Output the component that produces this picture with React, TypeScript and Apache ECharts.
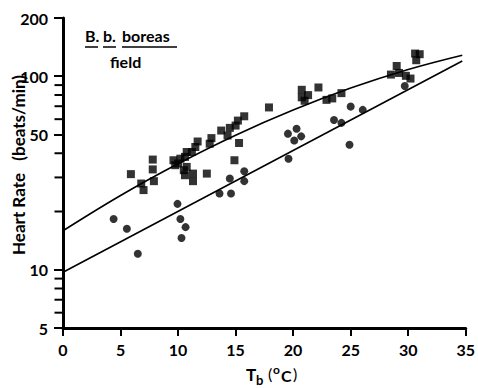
import React, { useEffect, useRef } from "react";
import * as echarts from "echarts";

// Squares (upper group)
const squareTemp = [5.9, 7.8, 7.8, 6.8, 7.0, 7.9, 15.75, 15.2, 15.0, 14.5, 13.75, 14.3, 12.9, 12.75, 11.7, 11.5, 11.2, 10.75, 10.6, 10.2, 10.0, 9.6, 9.75, 10.75, 10.5, 10.6, 11.3, 11.3, 12.5, 15.3, 14.9, 17.9, 20.75, 20.75, 21.3, 21.0, 22.2, 22.9, 23.4, 24.2, 30.6, 31.0, 30.7, 29.0, 28.5, 29.2, 29.8, 30.2];
const squareHR = [31.2, 37.1, 33.0, 27.9, 25.8, 28.7, 62.1, 59.0, 55.6, 54.1, 52.4, 49.4, 47.9, 44.8, 46.0, 43.1, 40.6, 40.6, 38.3, 37.5, 35.4, 36.8, 34.7, 34.0, 32.7, 30.8, 31.4, 28.7, 31.4, 45.2, 36.8, 69.0, 85.1, 77.8, 79.9, 74.7, 87.5, 75.5, 76.8, 81.8, 131, 130, 121, 113, 102, 104, 100.5, 97.3];

// Circles (lower group)
const circleTemp = [4.4, 5.55, 6.5, 9.95, 10.2, 10.65, 10.3, 13.6, 14.6, 14.5, 15.75, 15.75, 25.0, 26.05, 23.55, 24.2, 19.55, 20.3, 20.7, 20.1, 19.6, 24.9, 29.7];
const circleHR = [18.3, 16.3, 12.1, 21.9, 18.3, 16.6, 14.6, 24.8, 24.8, 29.6, 32.3, 28.7, 69.7, 67.0, 59.4, 57.4, 50.5, 53.5, 48.9, 46.6, 37.5, 44.3, 89.1];

// Fitted lines
const upperLineTemp = [0, 5, 10, 15, 20, 25, 30, 34.7];
const upperLineHR = [15.9, 24.2, 35.3, 49.6, 66.9, 86.9, 108.4, 128.5];
const lowerLineTemp = [0, 34.7];
const lowerLineHR = [9.7, 120];

// Axis ticks
const xTicks = [0, 5, 10, 15, 20, 25, 30, 35];
const yMajorTicks = [5, 10, 50, 100, 200];
const yMinorTicks = [6, 7, 8, 9, 20, 30, 40, 60, 70, 80, 90];

const L = (v: number) => Math.log10(v);
const FONT = "Lato, 'DejaVu Sans', sans-serif";

export default function App() {
  const ref = useRef<HTMLDivElement>(null);
  useEffect(() => {
    if (!ref.current) return;
    const chart = echarts.init(ref.current, undefined, { renderer: "svg" });
    const pts = (t: number[], h: number[]) => t.map((x, i) => [x, L(h[i])]);
    const yTickSeries = (vals: number[], len: number) => ({
      type: "custom",
      silent: true,
      clip: false,
      z: 10,
      data: vals.map((v) => [xTicks[0], L(v)]),
      renderItem: (_p: any, api: any) => {
        const p = api.coord([api.value(0), api.value(1)]);
        return {
          type: "line",
          shape: { x1: p[0] - 1.5 - len, y1: p[1], x2: p[0], y2: p[1] },
          style: { stroke: "#000", lineWidth: 2, fill: null },
        };
      },
    });
    chart.setOption({
      animation: false,
      backgroundColor: "#fff",
      grid: { left: 63, right: 7, top: 18, bottom: 60 },
      xAxis: {
        type: "value",
        min: xTicks[0],
        max: xTicks[xTicks.length - 1],
        interval: 5,
        axisLine: { show: true, lineStyle: { color: "#000", width: 3 } },
        axisTick: { show: true, length: 8, inside: false, lineStyle: { color: "#000", width: 2 } },
        axisLabel: { color: "#000", fontSize: 16, fontFamily: FONT, fontWeight: "bold", margin: 13 },
        splitLine: { show: false },
      },
      yAxis: {
        type: "value",
        min: L(5),
        max: L(200),
        axisLine: { show: true, lineStyle: { color: "#000", width: 3 } },
        axisTick: {
          show: true,
          length: 9,
          inside: false,
          lineStyle: { color: "#000", width: 2 },
          customValues: yMajorTicks.map(L),
        },
        axisLabel: {
          color: "#000",
          fontSize: 16,
          fontFamily: FONT,
          fontWeight: "bold",
          margin: 15,
          customValues: yMajorTicks.map(L),
          formatter: (v: number) => String(Math.round(Math.pow(10, v))),
        },
        splitLine: { show: false },
      },
      series: [
        yTickSeries(yMinorTicks, 7),
        {
          type: "line",
          data: pts(upperLineTemp, upperLineHR),
          smooth: 0.4,
          symbol: "none",
          lineStyle: { color: "#000", width: 1.6 },
        },
        {
          type: "line",
          data: pts(lowerLineTemp, lowerLineHR),
          symbol: "none",
          lineStyle: { color: "#000", width: 1.6 },
        },
        {
          type: "scatter",
          data: pts(squareTemp, squareHR),
          symbol: "rect",
          symbolSize: 8,
          itemStyle: { color: "#000" },
        },
        {
          type: "scatter",
          data: pts(circleTemp, circleHR),
          symbol: "circle",
          symbolSize: 8,
          itemStyle: { color: "#000" },
        },
      ],
      graphic: [
        { type: "text", x: 85, y: 27, style: { text: "B.", font: `bold 16px ${FONT}`, fill: "#000" } },
        { type: "text", x: 103, y: 27, style: { text: "b.", font: `bold 16px ${FONT}`, fill: "#000" } },
        { type: "text", x: 122, y: 27, style: { text: "boreas", font: `bold 16px ${FONT}`, fill: "#000" } },
        { type: "line", shape: { x1: 85, y1: 47, x2: 98, y2: 47 }, style: { stroke: "#000", lineWidth: 1.5 } },
        { type: "line", shape: { x1: 103, y1: 47, x2: 116, y2: 47 }, style: { stroke: "#000", lineWidth: 1.5 } },
        { type: "line", shape: { x1: 122, y1: 47, x2: 177, y2: 47 }, style: { stroke: "#000", lineWidth: 1.5 } },
        { type: "text", x: 110, y: 53, style: { text: "field", font: `bold 16px ${FONT}`, fill: "#000" } },
        {
          type: "text",
          x: 18,
          y: 165,
          rotation: Math.PI / 2,
          style: {
            text: "Heart Rate   (beats/min)",
            font: `bold 17px ${FONT}`,
            fill: "#000",
            textAlign: "center",
            textVerticalAlign: "middle",
          },
        },
        { type: "text", x: 246, y: 366, style: { text: "T", font: `bold 17px ${FONT}`, fill: "#000" } },
        { type: "text", x: 256, y: 373, style: { text: "b", font: `bold 13px ${FONT}`, fill: "#000" } },
        { type: "text", x: 268, y: 365, style: { text: "(", font: `16px ${FONT}`, fill: "#000" } },
        { type: "text", x: 273, y: 363, style: { text: "o", font: `bold 12px ${FONT}`, fill: "#000" } },
        { type: "text", x: 281, y: 367, style: { text: "C", font: `bold 16px ${FONT}`, fill: "#000" } },
        { type: "text", x: 293, y: 365, style: { text: ")", font: `16px ${FONT}`, fill: "#000" } },
      ],
    });
    return () => chart.dispose();
  }, []);
  return (
    <div
      ref={ref}
      style={{ position: "absolute", left: 0, top: 0, width: 478, height: 388 }}
    />
  );
}
